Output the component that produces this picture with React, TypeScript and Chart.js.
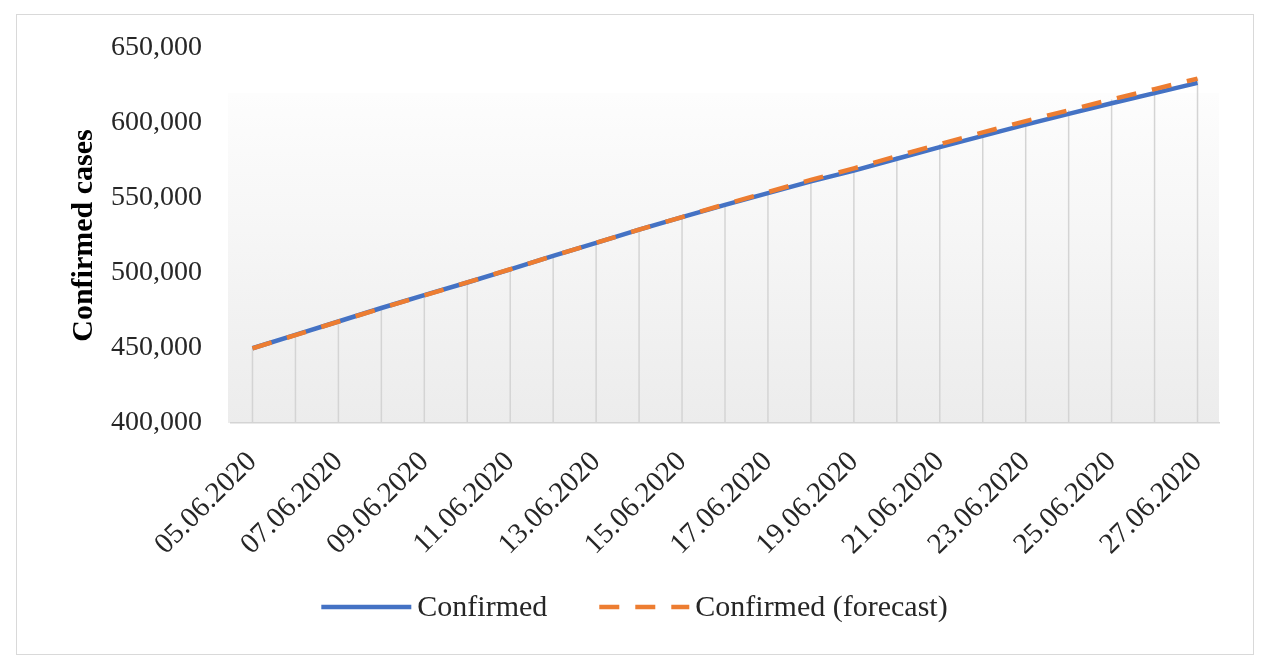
import React, { useEffect, useRef } from "react";
import { Chart, registerables } from "chart.js";

Chart.register(...registerables);

const dates = [
  "05.06.2020", "06.06.2020", "07.06.2020", "08.06.2020", "09.06.2020", "10.06.2020",
  "11.06.2020", "12.06.2020", "13.06.2020", "14.06.2020", "15.06.2020", "16.06.2020",
  "17.06.2020", "18.06.2020", "19.06.2020", "20.06.2020", "21.06.2020", "22.06.2020",
  "23.06.2020", "24.06.2020", "25.06.2020", "26.06.2020", "27.06.2020",
];

const confirmed = [
  449834, 458689, 467673, 476658, 485253, 493657, 502436, 511423, 520129, 528964,
  537210, 545458, 553301, 561091, 568292, 576162, 583879, 591465, 598878, 606043,
  613148, 619936, 626779,
];

const forecast = [
  449800, 458600, 467600, 476500, 485100, 493700, 502500, 511400, 520100, 528900,
  537300, 545800, 553900, 562100, 569700, 577900, 585900, 593700, 601300, 608500,
  615700, 622600, 629600,
];

const yMin = 400000;
const yMax = 650000;
const yStep = 50000;
const yTitle = "Confirmed cases";
const seriesNames = ["Confirmed", "Confirmed (forecast)"];

const SERIF = '"Liberation Serif", "Times New Roman", serif';

const backgroundPlugin = {
  id: "plotGradient",
  beforeDraw(chart: any) {
    const { ctx, chartArea } = chart;
    const h = chartArea.bottom - chartArea.top;
    const top = chartArea.top + h * 0.12;
    const g = ctx.createLinearGradient(0, top, 0, chartArea.bottom);
    g.addColorStop(0, "#fdfdfd");
    g.addColorStop(1, "#ececec");
    ctx.save();
    ctx.fillStyle = g;
    ctx.fillRect(chartArea.left - 3, top, chartArea.right - chartArea.left + 3, chartArea.bottom - top);
    ctx.restore();
  },
};

const dropLinePlugin = {
  id: "dropLines",
  beforeDatasetsDraw(chart: any) {
    const { ctx } = chart;
    const xs = chart.scales.x;
    const ys = chart.scales.y;
    const n = chart.data.labels.length;
    ctx.save();
    ctx.strokeStyle = "#d4d4d4";
    ctx.lineWidth = 1.5;
    for (let i = 0; i < n; i++) {
      let top = Infinity;
      chart.data.datasets.forEach((ds: any) => {
        const p = ys.getPixelForValue(ds.data[i]);
        if (p < top) top = p;
      });
      const x = xs.getPixelForValue(i);
      ctx.beginPath();
      ctx.moveTo(x, top);
      ctx.lineTo(x, ys.bottom);
      ctx.stroke();
    }
    ctx.restore();
  },
};

const legendPlugin = {
  id: "customLegend",
  afterDraw(chart: any) {
    const { ctx, chartArea } = chart;
    const datasets = chart.data.datasets;
    ctx.save();
    ctx.font = `30px ${SERIF}`;
    const sampleW = 90;
    const gapText = 6;
    const gapItem = 52;
    const widths = datasets.map((ds: any) => sampleW + gapText + ctx.measureText(ds.label).width);
    const total = widths.reduce((a: number, b: number) => a + b, 0) + gapItem * (datasets.length - 1);
    let x = chart.width / 2 - total / 2;
    const y = chartArea.bottom + 184;
    datasets.forEach((ds: any, i: number) => {
      ctx.beginPath();
      ctx.strokeStyle = ds.borderColor;
      ctx.lineWidth = ds.borderWidth;
      ctx.setLineDash(ds.borderDash || []);
      ctx.moveTo(x, y);
      ctx.lineTo(x + sampleW, y);
      ctx.stroke();
      ctx.setLineDash([]);
      ctx.fillStyle = "#262626";
      ctx.textBaseline = "middle";
      ctx.textAlign = "left";
      ctx.fillText(ds.label, x + sampleW + gapText, y + 1);
      x += widths[i] + gapItem;
    });
    ctx.restore();
  },
};

export default function App() {
  const ref = useRef<HTMLCanvasElement>(null);

  useEffect(() => {
    if (!ref.current) return;
    const chart = new Chart(ref.current, {
      type: "line",
      data: {
        labels: dates,
        datasets: [
          {
            label: seriesNames[0],
            data: confirmed,
            borderColor: "#4472C4",
            backgroundColor: "#4472C4",
            borderWidth: 4.5,
            pointRadius: 0,
            tension: 0,
            order: 1,
          },
          {
            label: seriesNames[1],
            data: forecast,
            borderColor: "#ED7D31",
            backgroundColor: "#ED7D31",
            borderWidth: 4.5,
            borderDash: [20, 16],
            pointRadius: 0,
            tension: 0,
            order: 0,
          },
        ],
      },
      options: {
        responsive: false,
        animation: false,
        devicePixelRatio: 1,
        layout: { padding: { left: 62, right: 50, top: 48, bottom: 97 } },
        plugins: {
          legend: { display: false },
          tooltip: { enabled: false },
        },
        scales: {
          x: {
            type: "category",
            offset: true,
            grid: { display: false, drawTicks: false },
            border: { display: true, color: "#d4d4d4", width: 1.5 },
            ticks: {
              autoSkip: false,
              minRotation: 45,
              maxRotation: 45,
              padding: 22,
              color: "#262626",
              font: { family: SERIF, size: 29 },
              callback: (_v: any, i: number) => (i % 2 === 0 ? dates[i] : ""),
            },
            afterFit: (s: any) => {
              s.height = 150;
            },
          },
          y: {
            min: yMin,
            max: yMax,
            grid: { display: false, drawTicks: false },
            border: { display: false },
            ticks: {
              stepSize: yStep,
              padding: 29,
              color: "#262626",
              font: { family: SERIF, size: 28 },
              callback: (v: any) => Number(v).toLocaleString("en-US"),
            },
            title: {
              display: true,
              text: yTitle,
              color: "#000000",
              font: { family: SERIF, size: 30, weight: "bold" },
              padding: { top: 4, bottom: 4 },
            },
            afterFit: (s: any) => {
              s.width = 169;
            },
          },
        },
      },
      plugins: [backgroundPlugin, dropLinePlugin, legendPlugin],
    } as any);
    return () => chart.destroy();
  }, []);

  return (
    <div style={{ position: "fixed", left: 0, top: 0, width: 1269, height: 670, background: "#ffffff" }}>
      <div
        style={{
          position: "absolute",
          left: 16,
          top: 14,
          width: 1238,
          height: 641,
          border: "1.5px solid #d9d9d9",
          boxSizing: "border-box",
        }}
      />
      <canvas ref={ref} width={1269} height={670} style={{ position: "absolute", left: 0, top: 0 }} />
    </div>
  );
}
